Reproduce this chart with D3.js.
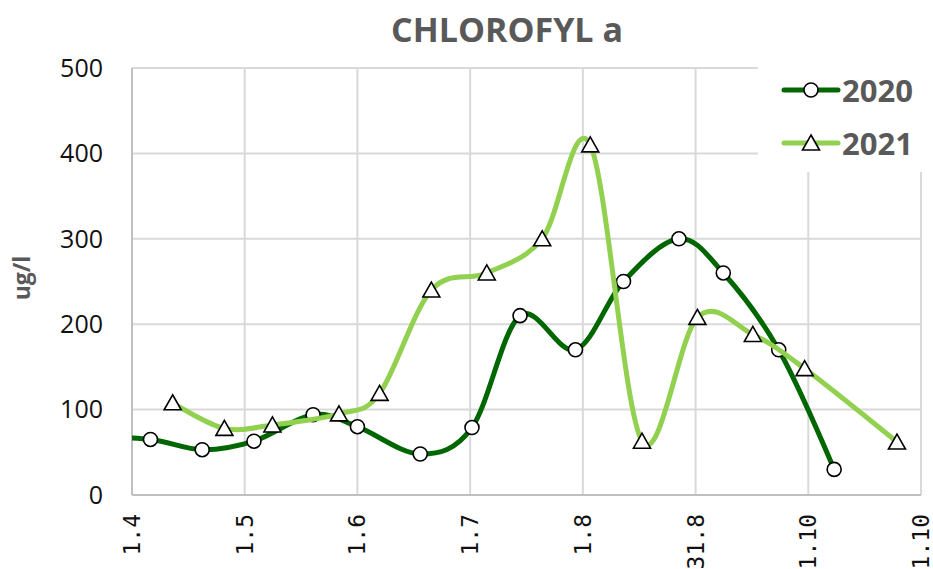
<!DOCTYPE html>
<html>
<head>
<meta charset="utf-8">
<script src="https://cdn.jsdelivr.net/npm/d3@7"></script>
<style>
  body { margin: 0; background: #fff; }
  svg { display: block; }
</style>
</head>
<body>
<div id="chart"></div>
<script>
// Data (x = days after 1 April)
const tickDays = [0, 30.5, 61, 91.5, 122, 152.5, 183, 213.5]
const tickLabels = ["1.4", "1.5", "1.6", "1.7", "1.8", "31.8", "1.10", "1.10"]
const yTicks = [0, 100, 200, 300, 400, 500]

const days2020 = [-12, 5, 19, 33, 49, 61, 78, 92, 105, 120, 133, 148, 160, 175, 190]
const vals2020 = [68, 65, 53, 63, 94, 80, 48, 79, 210, 170, 250, 300, 260, 170, 30]

const days2021 = [11, 25, 38, 56, 67, 81, 96, 111, 124, 138, 153, 168, 182, 207]
const vals2021 = [108, 78, 82, 95, 119, 240, 260, 300, 410, 63, 208, 188, 148, 62]

const width = 933, height = 569
const margin = ({top: 68, right: 12, bottom: 74, left: 132})

const series = [
    {name: "2020", color: "#006600", marker: "circle",
     data: days2020.map((d, i) => [d, vals2020[i]])},
    {name: "2021", color: "#92d050", marker: "triangle",
     data: days2021.map((d, i) => [d, vals2021[i]])}
]

const x = d3.scaleLinear()
    .domain([0, 213.5])
    .range([margin.left, width - margin.right])

const y = d3.scaleLinear()
    .domain([0, 500])
    .range([height - margin.bottom, margin.top])

const svg = d3.select("#chart").append("svg")
    .attr("width", width)
    .attr("height", height)
    .style("font-family", "'Open Sans', sans-serif")

svg.append("defs").append("clipPath")
    .attr("id", "plot")
  .append("rect")
    .attr("x", x.range()[0])
    .attr("y", y.range()[1] - 10)
    .attr("width", x.range()[1] - x.range()[0])
    .attr("height", y.range()[0] - y.range()[1] + 20)

// gridlines
svg.append("g")
    .selectAll("line")
    .data(yTicks.filter(d => d > 0))
    .join("line")
        .attr("x1", x.range()[0])
        .attr("x2", x.range()[1])
        .attr("y1", d => y(d))
        .attr("y2", d => y(d))
        .attr("stroke", "#d9d9d9")
        .attr("stroke-width", 2)

svg.append("g")
    .selectAll("line")
    .data(tickDays.slice(1))
    .join("line")
        .attr("x1", d => x(d))
        .attr("x2", d => x(d))
        .attr("y1", y.range()[1])
        .attr("y2", y.range()[0])
        .attr("stroke", "#d9d9d9")
        .attr("stroke-width", 2)

// axis lines
svg.append("line")
    .attr("x1", x.range()[0]).attr("x2", x.range()[0])
    .attr("y1", y.range()[1]).attr("y2", y.range()[0])
    .attr("stroke", "#bfbfbf").attr("stroke-width", 2)
svg.append("line")
    .attr("x1", x.range()[0]).attr("x2", x.range()[1])
    .attr("y1", y.range()[0]).attr("y2", y.range()[0])
    .attr("stroke", "#bfbfbf").attr("stroke-width", 2)

// y tick labels
svg.append("g")
    .selectAll("text")
    .data(yTicks)
    .join("text")
        .attr("x", 103)
        .attr("y", d => y(d))
        .attr("dy", "0.35em")
        .attr("text-anchor", "end")
        .attr("font-size", 25)
        .attr("fill", "#111")
        .text(d => d)

// x tick labels, rotated
svg.append("g")
    .selectAll("text")
    .data(tickDays)
    .join("text")
        .attr("transform", d => `translate(${x(d)},${y.range()[0] + 19}) rotate(-90)`)
        .attr("dy", "0.35em")
        .attr("text-anchor", "end")
        .attr("font-family", "'DejaVu Sans Mono', monospace")
        .attr("font-size", 23)
        .attr("fill", "#111")
        .text((d, i) => tickLabels[i])

// y axis title
svg.append("text")
    .attr("transform", `translate(30,278) rotate(-90)`)
    .attr("text-anchor", "middle")
    .attr("font-size", 23)
    .attr("font-weight", "bold")
    .attr("fill", "#595959")
    .text("ug/l")

// title
svg.append("text")
    .attr("x", 507)
    .attr("y", 42)
    .attr("text-anchor", "middle")
    .attr("font-size", 34)
    .attr("font-weight", "bold")
    .attr("fill", "#595959")
    .text("CHLOROFYL a")

const line = d3.line()
    .x(d => x(d[0]))
    .y(d => y(d[1]))
    .curve(d3.curveCatmullRom.alpha(0))

const triangle = "M0,-8L8.5,7L-8.5,7Z"

function drawMarker(g, type) {
    if (type === "circle") {
        g.append("circle").attr("r", 7)
    } else {
        g.append("path").attr("d", triangle)
    }
    g.selectAll("circle, path")
        .attr("fill", "#fff")
        .attr("stroke", "#000")
        .attr("stroke-width", 1.6)
}

const plot = svg.append("g").attr("clip-path", "url(#plot)")

series.forEach(s => {
    plot.append("path")
        .datum(s.data)
        .attr("fill", "none")
        .attr("stroke", s.color)
        .attr("stroke-width", 5)
        .attr("stroke-linecap", "round")
        .attr("d", line)

    plot.append("g")
        .selectAll("g")
        .data(s.data)
        .join("g")
            .attr("transform", d => `translate(${x(d[0])},${y(d[1])})`)
            .each(function () { drawMarker(d3.select(this), s.marker) })
})

// legend (white box over the gridlines)
const legend = svg.append("g")
legend.append("rect")
    .attr("x", 758).attr("y", 60)
    .attr("width", 175).attr("height", 112)
    .attr("fill", "#fff")

series.forEach((s, i) => {
    const ly = 90 + i * 53
    const g = legend.append("g")
    g.append("line")
        .attr("x1", 784).attr("x2", 838)
        .attr("y1", ly).attr("y2", ly)
        .attr("stroke", s.color)
        .attr("stroke-width", 5)
        .attr("stroke-linecap", "round")
    const m = g.append("g").attr("transform", `translate(811,${ly})`)
    drawMarker(m, s.marker)
    g.append("text")
        .attr("x", 842)
        .attr("y", ly + 12)
        .attr("font-size", 31)
        .attr("font-weight", "bold")
        .attr("fill", "#595959")
        .text(s.name)
})
</script>
</body>
</html>
